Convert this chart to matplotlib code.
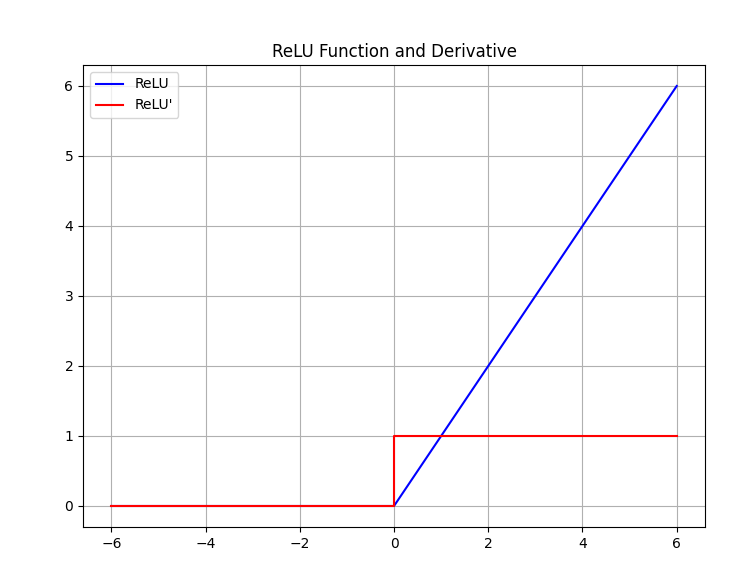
import matplotlib
matplotlib.use("Agg")
import matplotlib.pyplot as plt

# ReLU: corner points
relu_x = [-6, 0, 6]
relu_y = [0, 0, 6]

# derivative: step at 0
drelu_x = [-6, 0, 0, 6]
drelu_y = [0, 0, 1, 1]

fig = plt.figure(figsize=(7.5, 5.68), dpi=100)
ax = fig.add_axes([0.1107, 0.0722, 0.8293, 0.8134])

ax.plot(relu_x, relu_y, 'b-', label='ReLU')
ax.plot(drelu_x, drelu_y, 'r-', label="ReLU'")
ax.set_title('ReLU Function and Derivative')
ax.legend(loc='upper left')
ax.grid(True)

fig.savefig('out.png', dpi=100)
